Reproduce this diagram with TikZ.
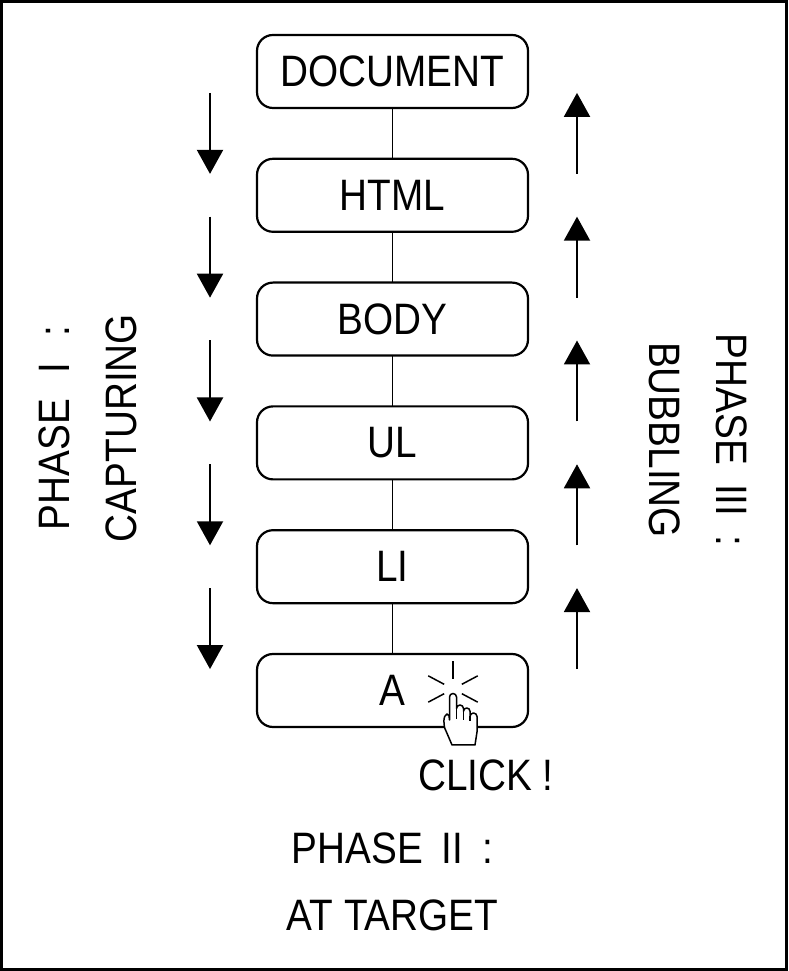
\documentclass[tikz,border=0pt]{standalone}
\usepackage{fontspec}
\setmainfont{Liberation Sans}[FakeStretch=0.88]
\usetikzlibrary{positioning,calc,arrows.meta}

\begin{document}
\begin{tikzpicture}[x=1pt,y=1pt,
    every node/.style={font=\fontsize{44pt}{67pt}\selectfont},
    elem/.style={draw, line width=2.2pt, rounded corners=16pt, minimum width=271pt, minimum height=73pt, inner sep=0pt, outer sep=0pt},
    link/.style={line width=1.6pt},
    flow/.style={line width=2pt, -{Triangle[width=26pt,length=24pt]}},
    phase/.style={inner sep=0pt, align=center},
    node distance=50.8pt]
  \useasboundingbox (0,0) rectangle (788,971);
  \draw[line width=3pt] (1.5,1.5) rectangle (786.5,969.5);

  \node[elem] (doc) at (392.5,899.5) {DOCUMENT};
  \node[elem, below=of doc] (html) {HTML};
  \node[elem, below=of html] (body) {BODY};
  \node[elem, below=of body] (ul) {UL};
  \node[elem, below=of ul] (li) {LI};
  \node[elem, below=of li] (a) {A};

  \foreach \parent/\child in {doc/html,html/body,body/ul,ul/li,li/a} {
    \draw[link] (\parent) -- (\child);
    \coordinate (mid) at ($(\parent.south)!0.5!(\child.north)$);
    \draw[flow] ([xshift=-182.5pt,yshift=40.5pt]mid) -- ([xshift=-182.5pt,yshift=-40.5pt]mid);
    \draw[flow] ([xshift=184.5pt,yshift=-40.5pt]mid) -- ([xshift=184.5pt,yshift=40.5pt]mid);
  }

  \node[phase, rotate=90] (capture) at (88,543) {PHASE\hspace{26pt}I\hspace{26pt}:\\CAPTURING};
  \node[phase, rotate=-90] (bubble) at (698.5,531) {PHASE\hspace{19pt}III\hspace{19pt}:\\BUBBLING};
  \node[phase] (target) at (392.5,89) {PHASE\hspace{19pt}II\hspace{19pt}:\\AT TARGET};
  \node[phase, below=33pt of a.south, xshift=93.5pt] (click) {CLICK !};

  % click mark
  \coordinate (spark) at ([xshift=60.5pt,yshift=1.5pt]a.center);
  \foreach \ang in {90,28,152,208,332}
    \draw[line width=1.5pt] (spark) ++(\ang:10) -- ++(\ang:18);
  \begin{scope}[shift={(spark)}, line width=1.5pt, line join=round]
    \draw[fill=white] (-1,-56) -- (-7,-42) .. controls (-10,-37) and (-10,-26) .. (-6,-25)
      .. controls (-4,-25) and (-3.5,-28) .. (-3.5,-31) -- (-3.5,-8)
      arc[start angle=180, end angle=0, radius=3.5] -- (3.5,-19.5)
      arc[start angle=180, end angle=0, radius=3.5] -- (10.5,-22.25)
      arc[start angle=180, end angle=0, radius=3.25] -- (17,-27.5)
      arc[start angle=180, end angle=0, radius=3.5] -- (24,-43) -- (22,-56) -- cycle;
    \draw (3.5,-19.5) -- (3.5,-30);
    \draw (10.5,-22.25) -- (10.5,-31);
    \draw (17,-27.5) -- (17,-32);
  \end{scope}
\end{tikzpicture}
\end{document}
